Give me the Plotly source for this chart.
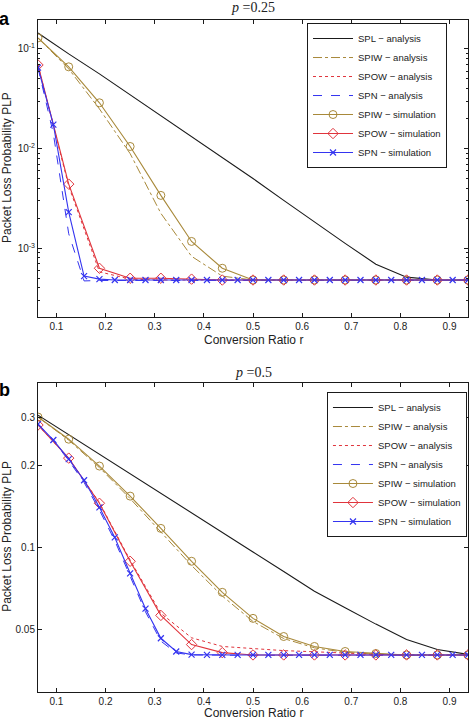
import plotly.graph_objects as go

# ---------------- data ----------------
x16 = [0.0625, 0.125, 0.1875, 0.25, 0.3125, 0.375, 0.4375, 0.5, 0.5625,
       0.625, 0.6875, 0.75, 0.8125, 0.875, 0.9375]
x32 = [0.0625, 0.09375, 0.125, 0.15625, 0.1875, 0.21875, 0.25, 0.28125,
       0.3125, 0.34375, 0.375, 0.40625, 0.4375, 0.46875, 0.5, 0.53125,
       0.5625, 0.59375, 0.625, 0.65625, 0.6875, 0.71875, 0.75, 0.78125,
       0.8125, 0.84375, 0.875, 0.90625, 0.9375]

# p = 0.25
a_spl = [0.1445, 0.0891, 0.0562, 0.0347, 0.0214, 0.0132, 0.00813, 0.00501,
         0.00302, 0.00182, 0.00112, 0.000692, 0.000513, 0.000480, 0.000478]
a_spiw_an = [0.129, 0.063, 0.025, 0.0089, 0.00224, 0.00083, 0.000525, 0.00048,
             0.00048, 0.00048, 0.00048, 0.00048, 0.00048, 0.00048, 0.00048]
a_spow_an = [0.069, 0.0042, 0.00058, 0.00049, 0.00048, 0.00048, 0.00048, 0.00048,
             0.00048, 0.00048, 0.00048, 0.00048, 0.00048, 0.00048, 0.00048]
a_spn_an = [0.065, 0.0141, 0.0014, 0.00047, 0.000475, 0.000475, 0.000475, 0.000475,
            0.000475, 0.000475, 0.000475, 0.000475, 0.000475, 0.000475, 0.000475,
            0.000475, 0.000475, 0.000475, 0.000475, 0.000475, 0.000475, 0.000475,
            0.000475, 0.000475, 0.000475, 0.000475, 0.000475, 0.000475, 0.000475]
a_spiw_sim = [0.129, 0.0661, 0.0288, 0.0105, 0.00339, 0.00117, 0.00063, 0.00048,
              0.00048, 0.00048, 0.00048, 0.00048, 0.00048, 0.00048, 0.00048]
a_spow_sim = [0.069, 0.0044, 0.00063, 0.0005, 0.0005, 0.00049, 0.00048, 0.00048,
              0.00048, 0.00048, 0.00048, 0.00048, 0.00048, 0.00048, 0.00048]
a_spn_sim = [0.065, 0.0174, 0.0023, 0.000525, 0.00049, 0.00048, 0.00048, 0.00048,
             0.00048, 0.00048, 0.00048, 0.00048, 0.00048, 0.00048, 0.00048,
             0.00048, 0.00048, 0.00048, 0.00048, 0.00048, 0.00048, 0.00048,
             0.00048, 0.00048, 0.00048, 0.00048, 0.00048, 0.00048, 0.00048]

# p = 0.5
b_spl = [0.3048, 0.2588, 0.2193, 0.1862, 0.1578, 0.1340, 0.1135, 0.0964,
         0.0817, 0.0692, 0.0603, 0.0525, 0.0461, 0.0424, 0.0407]
b_spiw_an = [0.300, 0.247, 0.196, 0.151, 0.114, 0.086, 0.0665, 0.0537,
             0.0465, 0.0430, 0.0414, 0.0408, 0.0405, 0.0405, 0.0405]
b_spow_an = [0.2805, 0.212, 0.146, 0.090, 0.0575, 0.0468, 0.0435, 0.0427,
             0.042, 0.0416, 0.0411, 0.0407, 0.0405, 0.0405, 0.0405]
b_spn_an = [0.2825, 0.246, 0.208, 0.173, 0.137, 0.106, 0.0785, 0.0582,
            0.0455, 0.0412, 0.0405, 0.0404, 0.0404, 0.0404, 0.0404, 0.0404,
            0.0404, 0.0404, 0.0404, 0.0404, 0.0404, 0.0404, 0.0404, 0.0404,
            0.0404, 0.0404, 0.0404, 0.0404, 0.0404]
b_spiw_sim = [0.300, 0.249, 0.1986, 0.1542, 0.1175, 0.0891, 0.0686, 0.0551,
              0.0473, 0.0435, 0.0417, 0.0410, 0.0405, 0.0405, 0.0405]
b_spow_sim = [0.2805, 0.2123, 0.1452, 0.0891, 0.0565, 0.0442, 0.0413, 0.0405,
              0.0405, 0.0405, 0.0405, 0.0405, 0.0405, 0.0405, 0.0405]
b_spn_sim = [0.2825, 0.2472, 0.2104, 0.1762, 0.1403, 0.1089, 0.0805, 0.0598,
             0.0466, 0.0417, 0.0406, 0.0405, 0.0405, 0.0405, 0.0405, 0.0405,
             0.0405, 0.0405, 0.0405, 0.0405, 0.0405, 0.0405, 0.0405, 0.0405,
             0.0405, 0.0405, 0.0405, 0.0405, 0.0405]

names = ["SPL \u2212 analysis", "SPIW \u2212 analysis", "SPOW \u2212 analysis",
         "SPN \u2212 analysis", "SPIW \u2212 simulation", "SPOW \u2212 simulation",
         "SPN \u2212 simulation"]

# ---------------- styles ----------------
C_BLK = "#1a1a1a"
C_GLD = "#a8893a"
C_RED = "#e0343c"
C_BLU = "#3434f0"
FONT = "Liberation Sans, Arial, sans-serif"

fig = go.Figure()


def add_panel(xa, ya, leg, spl, spiw_an, spow_an, spn_an, spiw_sim, spow_sim, spn_sim):
    specs = [
        (x16, spl, names[0], dict(color=C_BLK, width=1.1), None),
        (x16, spiw_an, names[1], dict(color=C_GLD, width=1, dash="dashdot"), None),
        (x16, spow_an, names[2], dict(color=C_RED, width=1, dash="dot"), None),
        (x32, spn_an, names[3], dict(color=C_BLU, width=1, dash="dash"), None),
        (x16, spiw_sim, names[4], dict(color=C_GLD, width=1.1),
         dict(symbol="circle-open", size=8, color=C_GLD, line=dict(width=1))),
        (x16, spow_sim, names[5], dict(color=C_RED, width=1.1),
         dict(symbol="diamond-open", size=8, color=C_RED, line=dict(width=1))),
        (x32, spn_sim, names[6], dict(color=C_BLU, width=1.1),
         dict(symbol="x-thin-open", size=6, color=C_BLU, line=dict(width=1.2, color=C_BLU))),
    ]
    for xs, ys, nm, ln, mk in specs:
        fig.add_trace(go.Scatter(
            x=xs, y=ys, name=nm, xaxis=xa, yaxis=ya, legend=leg,
            mode="lines+markers" if mk else "lines",
            line=ln, marker=mk if mk else None))


add_panel("x", "y", "legend", a_spl, a_spiw_an, a_spow_an, a_spn_an,
          a_spiw_sim, a_spow_sim, a_spn_sim)
add_panel("x2", "y2", "legend2", b_spl, b_spiw_an, b_spow_an, b_spn_an,
          b_spiw_sim, b_spow_sim, b_spn_sim)

xticks = [0.1, 0.2, 0.3, 0.4, 0.5, 0.6, 0.7, 0.8, 0.9]
xtext = ["0.1", "0.2", "0.3", "0.4", "0.5", "0.6", "0.7", "0.8", "0.9"]
ytickA = [0.001, 0.01, 0.1]
ytextA = ["10<sup>-3</sup>", "10<sup>-2</sup>", "10<sup>-1</sup>"]
yminorA = [3e-4, 4e-4, 5e-4, 6e-4, 7e-4, 8e-4, 9e-4,
           2e-3, 3e-3, 4e-3, 5e-3, 6e-3, 7e-3, 8e-3, 9e-3,
           2e-2, 3e-2, 4e-2, 5e-2, 6e-2, 7e-2, 8e-2, 9e-2]
ytickB = [0.05, 0.1, 0.2, 0.3]
ytextB = ["0.05", "0.1", "0.2", "0.3"]

axcommon = dict(showline=True, linecolor=C_BLK, linewidth=1, mirror="ticks",
                ticks="inside", ticklen=4, tickcolor=C_BLK, showgrid=False,
                zeroline=False, automargin=False,
                tickfont=dict(family=FONT, size=10, color="#222"))

fig.update_layout(
    width=473, height=721,
    margin=dict(l=38, r=5, t=20, b=29),
    paper_bgcolor="white", plot_bgcolor="white",
    font=dict(family=FONT, color="#222"),
    xaxis=dict(domain=[0, 1], anchor="y", range=[0.0625, 0.9375],
               tickvals=xticks, ticktext=xtext, **axcommon),
    yaxis=dict(domain=[0.558, 1], anchor="x", type="log", range=[-3.69, -0.71],
               tickvals=ytickA, ticktext=ytextA,
               minor=dict(tickvals=yminorA, ticks="inside", ticklen=2,
                          tickcolor=C_BLK, showgrid=False),
               **axcommon),
    xaxis2=dict(domain=[0, 1], anchor="y2", range=[0.0625, 0.9375],
                tickvals=xticks, ticktext=xtext, **axcommon),
    yaxis2=dict(domain=[0, 0.46], anchor="x2", type="log", range=[-1.528, -0.398],
                tickvals=ytickB, ticktext=ytextB, **axcommon),
    legend=dict(x=0.6256, y=0.9955, xanchor="left", yanchor="top",
                bordercolor=C_BLK, borderwidth=1, bgcolor="white",
                font=dict(family=FONT, size=9.5, color="#222"), itemwidth=40,
                tracegroupgap=0),
    legend2=dict(x=0.672, y=0.4464, xanchor="left", yanchor="top",
                 bordercolor=C_BLK, borderwidth=1, bgcolor="white",
                 font=dict(family=FONT, size=9.5, color="#222"), itemwidth=40,
                 tracegroupgap=0),
    showlegend=True,
)

ann = []
ann.append(dict(text="<i>p</i> =0.25", x=0.5, y=1.018, xref="paper", yref="paper",
                showarrow=False, font=dict(family="Liberation Serif, serif", size=14, color="#222"),
                xanchor="center", yanchor="middle"))
ann.append(dict(text="<i>p</i> =0.5", x=0.5, y=0.476, xref="paper", yref="paper",
                showarrow=False, font=dict(family="Liberation Serif, serif", size=14, color="#222"),
                xanchor="center", yanchor="middle"))
for yy in [0.524, -0.031]:
    ann.append(dict(text="Conversion Ratio r", x=0.5, y=yy, xref="paper", yref="paper",
                    showarrow=False, font=dict(family=FONT, size=12, color="#222"),
                    xanchor="center", yanchor="middle"))
for yy in [0.78, 0.231]:
    ann.append(dict(text="Packet Loss Probability PLP", x=-0.072, y=yy, xref="paper",
                    yref="paper", showarrow=False, textangle=-90,
                    font=dict(family=FONT, size=12, color="#222"),
                    xanchor="center", yanchor="middle"))
ann.append(dict(text="<b>a</b>", x=-0.077, y=1.002, xref="paper", yref="paper",
                showarrow=False, font=dict(family=FONT, size=18, color="black"),
                xanchor="center", yanchor="middle"))
ann.append(dict(text="<b>b</b>", x=-0.077, y=0.449, xref="paper", yref="paper",
                showarrow=False, font=dict(family=FONT, size=18, color="black"),
                xanchor="center", yanchor="middle"))
fig.update_layout(annotations=ann)

fig.write_html("out.html")
